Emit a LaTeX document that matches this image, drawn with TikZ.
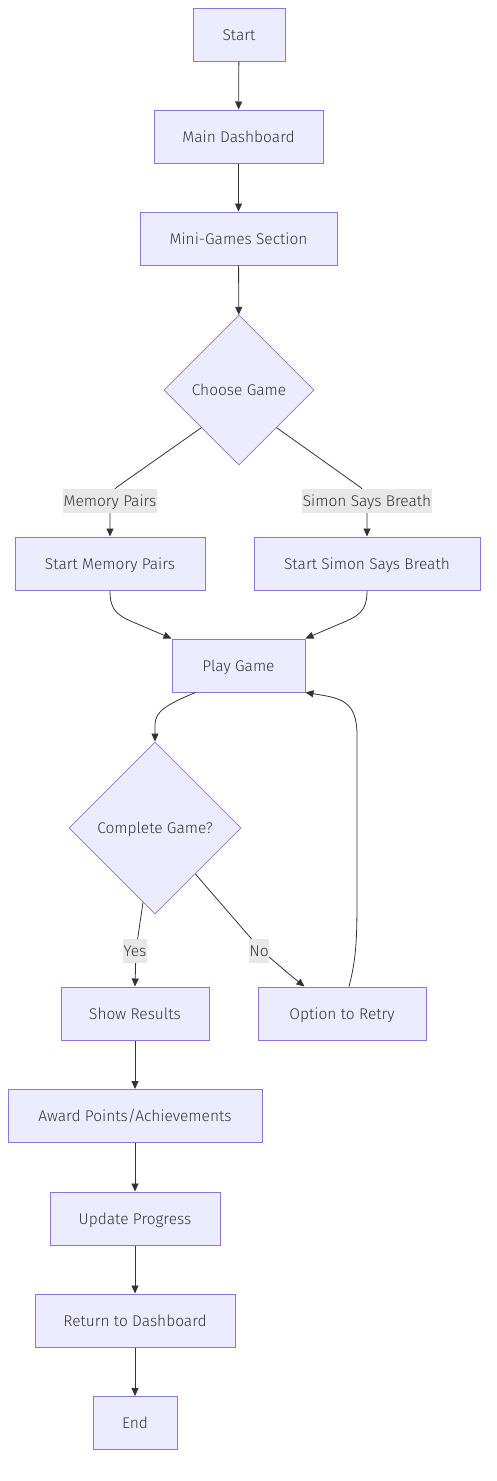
\documentclass[tikz,border=0pt]{standalone}
\usepackage{fontspec}
\setmainfont{Fira Sans Light}
\usetikzlibrary{shapes.geometric,arrows.meta,calc}
\definecolor{nfill}{HTML}{ECECFF}
\definecolor{nstroke}{HTML}{9370DB}
\definecolor{edgec}{HTML}{333333}
\definecolor{lblbg}{HTML}{E8E8E8}
\begin{document}
\begin{tikzpicture}[x=1pt,y=-1pt,
  box/.style={draw=nstroke,fill=nfill,line width=1pt,minimum height=53pt,inner sep=0pt,text=edgec,text height=11pt,text depth=0pt,font=\fontsize{15.5}{18}\selectfont},
  dia/.style={diamond,aspect=1,draw=nstroke,fill=nfill,line width=0.8pt,inner sep=0pt,text=edgec,text height=11pt,text depth=0pt,font=\fontsize{15.5}{18}\selectfont},
  lbl/.style={fill=lblbg,inner xsep=0.5pt,inner ysep=1.5pt,text=edgec,text height=11pt,text depth=0pt,minimum height=24pt,font=\fontsize{15.5}{18}\selectfont},
  edge/.style={draw=edgec,line width=0.8pt,-{Triangle[length=8pt,width=7pt]}}]
\useasboundingbox (0,0) rectangle (496,1481);
\node[box,minimum width=92pt] (start) at (239,34.5) {Start};
\node[box,minimum width=169pt] (md) at (238.5,136.5) {Main Dashboard};
\node[box,minimum width=197pt] (mgs) at (238.5,238.5) {Mini-Games Section};
\node[dia,minimum width=150pt,minimum height=150pt] (cg) at (239,390) {Choose Game};
\node[box,minimum width=190pt] (smp) at (110,563.5) {Start Memory Pairs};
\node[box,minimum width=226pt] (ssb) at (367,563.5) {Start Simon Says Breath};
\node[box,minimum width=133pt] (pg) at (238.5,665.5) {Play Game};
\node[dia,minimum width=172pt,minimum height=172pt] (cgm) at (155,828) {Complete Game?};
\node[box,minimum width=148pt] (sr) at (135,1013.5) {Show Results};
\node[box,minimum width=168pt] (otr) at (342,1013.5) {Option to Retry};
\node[box,minimum width=254pt] (apa) at (135,1116) {Award Points/Achievements};
\node[box,minimum width=170pt] (up) at (135,1218.5) {Update Progress};
\node[box,minimum width=200pt] (rtd) at (135,1320.5) {Return to Dashboard};
\node[box,minimum width=84pt] (end) at (135,1423) {End};

\draw[edge] (start) -- (md);
\draw[edge] (md) -- (mgs);
\draw[edge] (mgs) -- (cg);
\draw[edge] (cg.south west) -- (117,487) .. controls (111,492) and (110,496) .. (110,505) -- (smp.north);
\draw[edge] (cg.south east) -- (360,487) .. controls (366,492) and (367,496) .. (367,505) -- (ssb.north);
\draw[edge] (smp.south) .. controls (110,612) and (118,616) .. (140,625) -- (pg.north west);
\draw[edge] (ssb.south) .. controls (367,612) and (359,616) .. (337,625) -- (pg.north east);
\draw[edge] ($(pg.south)+(-43,0)$) .. controls (165,705) and (155,712) .. (155,725) -- (cgm.north);
\draw[edge] ($(cgm.south)+(-12,-12)$) -- (136,950) -- (sr.north);
\draw[edge] ($(cgm.east)+(-46,46)$) -- (262,951) .. controls (275,962) and (290,975) .. ($(otr.north west)+(47,0)$);
\draw[edge] ($(otr.north)+(7,0)$) .. controls (356,960) and (357,940) .. (357,900) -- (357,735) .. controls (357,700) and (340,698) .. (pg.south east);
\draw[edge] (sr) -- (apa);
\draw[edge] (apa) -- (up);
\draw[edge] (up) -- (rtd);
\draw[edge] (rtd) -- (end);

\node[lbl] (lmp) at (110,501) {Memory Pairs};
\node[lbl] (lssb) at (367,501) {Simon Says Breath};
\node[lbl] (lyes) at (135,951) {Yes};
\node[lbl] (lno) at (259,951) {No};
\end{tikzpicture}
\end{document}
